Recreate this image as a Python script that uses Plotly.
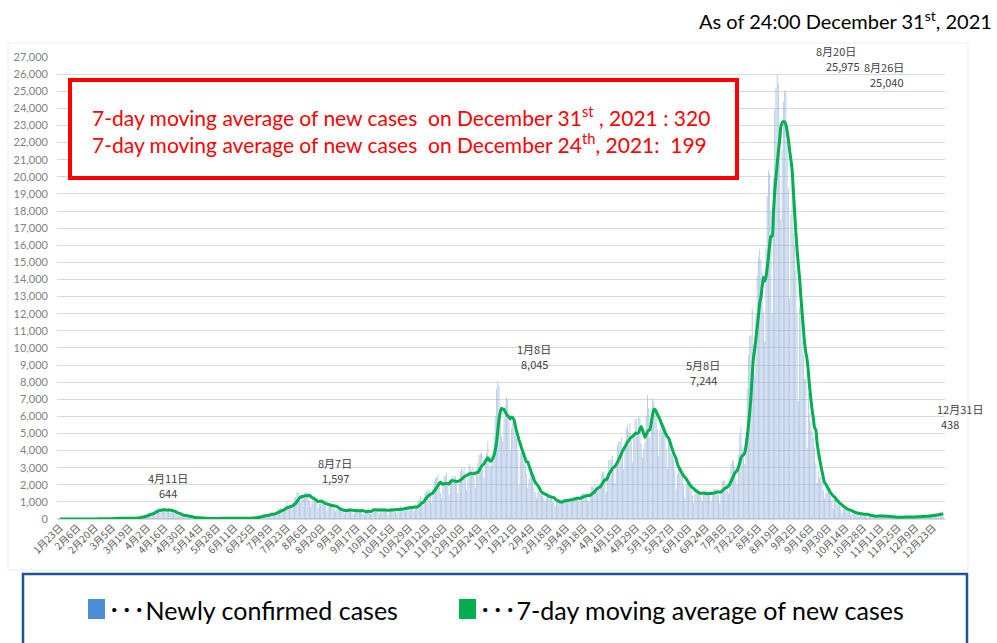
import pandas as pd
import plotly.graph_objects as go

# ---------------- data (daily newly confirmed cases) ----------------
jan_2020 = [1, 0, 1, 1, 0, 1, 4, 2, 3]
feb_2020 = [1, 2, 0, 0, 0, 0, 0, 1, 0, 0, 0, 1, 2, 1, 8, 5, 7, 6, 8, 5,
            9, 10, 12, 14, 8, 14, 18, 21, 12]
mar_2020 = [14, 15, 18, 35, 29, 52, 59, 33, 26, 59, 54, 52, 62, 41, 15, 32, 45, 42, 44, 39,
            53, 43, 38, 65, 93, 96, 112, 194, 173, 87, 220]
apr_2020 = [225, 275, 351, 367, 383, 252, 351, 515, 576, 608, 644, 507, 392, 457, 549, 580, 562, 584, 568, 373,
            372, 427, 448, 416, 350, 216, 179, 265, 210, 185]
may_2020 = [165, 244, 204, 118, 124, 86, 100, 85, 104, 48, 69, 60, 35, 98, 64, 47, 28, 27, 40, 30,
            39, 27, 15, 22, 21, 35, 37, 38, 64, 48, 38]
jun_2020 = [32, 36, 40, 41, 52, 37, 39, 15, 40, 40, 43, 55, 41, 47, 42, 44, 46, 31, 60, 54,
            56, 48, 37, 57, 61, 105, 92, 110, 58, 132]
jul_2020 = [128, 196, 250, 274, 209, 139, 207, 195, 355, 430, 385, 255, 226, 331, 464, 623, 590, 668, 509, 419,
            630, 795, 981, 768, 839, 595, 599, 981, 1261, 1301, 1580]
aug_2020 = [1536, 1331, 958, 1236, 1356, 1485, 1597, 1565, 1445, 1066, 699, 969, 1176, 1360, 1228, 1012, 622, 886, 1027, 1136,
            1033, 849, 734, 489, 702, 896, 966, 854, 836, 587, 433]
sep_2020 = [597, 519, 569, 582, 529, 478, 285, 509, 506, 653, 650, 583, 447, 270, 397, 477, 597, 641, 529, 464,
            434, 299, 228, 486, 555, 646, 550, 276, 518, 570]
oct_2020 = [630, 579, 594, 539, 287, 494, 545, 624, 613, 574, 423, 263, 535, 598, 693, 615, 640, 422, 316, 614,
            613, 741, 621, 736, 502, 488, 724, 690, 803, 766, 723]
nov_2020 = [613, 471, 845, 622, 1046, 1141, 1309, 1020, 764, 1290, 1545, 1664, 1704, 1738, 1435, 954, 1702, 2201, 2388, 2427,
            2595, 2168, 1520, 1228, 1941, 2504, 2508, 2684, 2067, 1434]
dec_2020 = [2029, 2432, 2506, 2442, 2509, 2027, 1510, 2067, 2810, 2971, 2789, 3041, 2391, 1680, 2384, 3211, 3037, 2834, 2991, 2484,
            1816, 2643, 3269, 3740, 3823, 3877, 2943, 2395, 3604, 3852, 4520]
jan_2021 = [3251, 3059, 3158, 3325, 4915, 6001, 7570, 8045, 7790, 6094, 4876, 4537, 5874, 6605, 7133, 7014, 5759, 3999, 5320, 5654,
            5586, 5045, 4717, 3990, 1987, 3853, 3961, 4129, 3538, 3337, 2672]
feb_2021 = [1792, 2324, 2631, 2576, 2369, 1781, 1598, 1217, 1569, 1880, 1608, 1543, 1342, 1211, 1056, 1309, 1529, 1378, 1311, 1239,
            1046, 961, 739, 1070, 1142, 1078, 988, 996]
mar_2021 = [1010, 1052, 1168, 1184, 1146, 1133, 1065, 1128, 1127, 1316, 1285, 1320, 1295, 1067, 987, 1464, 1500, 1498, 1471, 1513,
            1119, 1048, 1484, 1914, 1921, 1829, 2034, 1785, 1559, 1863, 2080]
apr_2021 = [2597, 2785, 2759, 2438, 1572, 2657, 3453, 3443, 3479, 3697, 2780, 2091, 3447, 4301, 4532, 4527, 4802, 4093, 2924, 4336,
            5285, 5518, 5120, 5606, 4606, 3315, 4835, 5795, 5891, 5011]
may_2021 = [5990, 5899, 4403, 3600, 4080, 4441, 6054, 7244, 6466, 4718, 6234, 7050, 6873, 6266, 6417, 5246, 3678, 5232, 5687, 5574,
            5265, 4951, 4066, 2916, 4549, 4402, 3829, 3684, 3515, 2879, 1787]
jun_2021 = [2640, 2978, 2960, 2694, 2578, 1963, 1237, 2063, 2218, 2062, 1947, 1923, 1388, 936, 1464, 1746, 1768, 1677, 1610, 1303,
            1019, 1411, 1669, 1726, 1597, 1632, 1367, 1021, 1539, 1772]
jul_2021 = [1755, 1798, 1754, 1424, 948, 1671, 2188, 2253, 2233, 2076, 1644, 1502, 2380, 3194, 3434, 3426, 3100, 2327, 1999, 3757,
            4943, 5397, 4225, 3574, 3200, 4692, 7629, 9576, 10693, 10743, 12341]
aug_2021 = [10168, 8392, 12016, 14207, 15263, 15753, 15166, 14472, 12065, 10379, 15812, 18889, 20365, 20151, 17999, 12000, 19950, 23917, 25156, 25975,
            25492, 22500, 17500, 21570, 24372, 25040, 24935, 22700, 19300, 12900, 17800]
sep_2021 = [20024, 16698, 16014, 14514, 12029, 6883, 12395, 12404, 10386, 9600, 8221, 8163, 4170, 7344, 6145, 5681, 5093, 4747, 4170, 3292,
            2100, 2800, 2400, 2500, 2200, 1700, 1200, 1500, 1800, 1600]
oct_2021 = [1444, 1350, 1100, 620, 1130, 1130, 860, 980, 770, 600, 380, 600, 690, 620, 510, 530, 420, 250, 370, 390,
            390, 350, 330, 270, 150, 290, 340, 280, 310, 280, 250]
nov_2021 = [86, 147, 163, 162, 230, 190, 170, 105, 165, 196, 206, 201, 175, 135, 80, 135, 176, 150, 147, 146,
            95, 50, 77, 97, 108, 133, 130, 113, 78, 97]
dec_2021 = [130, 125, 130, 130, 110, 70, 130, 140, 155, 160, 150, 140, 90, 170, 185, 170, 180, 190, 160, 130,
            250, 250, 230, 183, 320, 260, 205, 340, 400, 277, 438]

months = [jan_2020, feb_2020, mar_2020, apr_2020, may_2020, jun_2020, jul_2020, aug_2020, sep_2020, oct_2020,
          nov_2020, dec_2020, jan_2021, feb_2021, mar_2021, apr_2021, may_2021, jun_2021, jul_2021, aug_2021,
          sep_2021, oct_2021, nov_2021, dec_2021]
expected_len = [9, 29, 31, 30, 31, 30, 31, 31, 30, 31, 30, 31, 31, 28, 31, 30, 31, 30, 31, 31, 30, 31, 30, 31]
for i, (m, n) in enumerate(zip(months, expected_len)):
    assert len(m) == n, f"month {i} has {len(m)} values, expected {n}"

new_cases = [v for m in months for v in m]
dates = pd.date_range("2020-01-23", periods=len(new_cases), freq="D")
moving_avg = pd.Series(new_cases, index=dates).rolling(7, min_periods=1).mean()

tick_dates = pd.date_range("2020-01-23", "2021-12-23", freq="14D")
tick_labels = [f"{d.month}月{d.day}日" for d in tick_dates]

peak_labels = [  # (date label, value label, px x of date, px x of value, px y of first line)
    ("4月11日", "644", 168, 168, 478),
    ("8月7日", "1,597", 335, 335, 463),
    ("1月8日", "8,045", 534, 534, 349),
    ("5月8日", "7,244", 703, 703, 365),
    ("8月20日", "25,975", 836, 843, 51),
    ("8月26日", "25,040", 884, 887, 67),
    ("12月31日", "438", 960, 950, 409),
]

# ---------------- geometry helpers (pixel -> paper) ----------------
W, H = 997, 643
L, R, T, B = 57, 52, 57, 124
PW, PH = W - L - R, H - T - B


def px(x):
    return (x - L) / PW


def py(y):
    return (H - B - y) / PH


FONT = "Lato, 'Noto Sans CJK JP', sans-serif"
JFONT = "'Noto Sans CJK JP', sans-serif"

fig = go.Figure()
fig.add_trace(go.Bar(
    x=dates, y=new_cases, name="Newly confirmed cases",
    marker=dict(color="rgba(150,177,219,0.72)", line=dict(width=0)),
))
fig.add_trace(go.Scatter(
    x=dates, y=moving_avg, mode="lines", name="7-day moving average of new cases",
    line=dict(color="#00B050", width=3, shape="spline", smoothing=0.6),
))

shapes = []
# faint chart-area frame
shapes.append(dict(type="rect", xref="paper", yref="paper", x0=px(8), x1=px(968), y0=py(570), y1=py(43),
                   line=dict(color="#EDEDED", width=1), layer="below"))
# red info box
shapes.append(dict(type="rect", xref="paper", yref="paper", x0=px(70), x1=px(737), y0=py(178), y1=py(80),
                   line=dict(color="#FF0000", width=4), fillcolor="white"))
# legend box
shapes.append(dict(type="rect", xref="paper", yref="paper", x0=px(23), x1=px(967), y0=py(650), y1=py(574),
                   line=dict(color="#1F5496", width=2.5)))
# legend swatches
shapes.append(dict(type="rect", xref="paper", yref="paper", x0=px(88), x1=px(105), y0=py(619), y1=py(599),
                   line=dict(width=0), fillcolor="#4A8ED8"))
shapes.append(dict(type="rect", xref="paper", yref="paper", x0=px(459), x1=px(476), y0=py(619), y1=py(599),
                   line=dict(width=0), fillcolor="#00B050"))

annotations = []


def text(x, y, s, size, color="#000000", xanchor="left", font=FONT):
    annotations.append(dict(xref="paper", yref="paper", x=px(x), y=py(y), text=s, showarrow=False,
                            xanchor=xanchor, yanchor="middle", font=dict(family=font, size=size, color=color)))


text(994, 20, "As of 24:00 December 31<sup>st</sup>, 2021", 20, xanchor="right")
text(90, 116, "7-day moving average of new cases  on December 31<sup>st</sup> , 2021 : 320", 21, "#FF0000")
text(90, 143, "7-day moving average of new cases  on December 24<sup>th</sup>, 2021:  199", 21, "#FF0000")
text(106, 610, "･･･Newly confirmed cases", 25)
text(477, 610, "･･･7-day moving average of new cases", 25)
for dl, vl, x1, x2, y in peak_labels:
    text(x1, y, dl, 11, "#404040", xanchor="center", font=JFONT)
    text(x2, y + 15, vl, 11, "#404040", xanchor="center", font=JFONT)

fig.update_layout(
    width=W, height=H,
    margin=dict(l=L, r=R, t=T, b=B, autoexpand=False),
    paper_bgcolor="white", plot_bgcolor="white",
    showlegend=False, bargap=0.3,
    shapes=shapes, annotations=annotations,
    font=dict(family=JFONT, color="#595959"),
)
fig.update_xaxes(
    type="date", range=["2020-01-20 14:00", "2022-01-01 14:00"],
    tickmode="array", tickvals=tick_dates, ticktext=tick_labels, tickangle=-45,
    tickfont=dict(size=10, color="#595959", family=JFONT),
    showgrid=False, showline=False, zeroline=False, ticks="",
)
fig.update_yaxes(
    range=[0, 27000], dtick=1000, tickformat=",",
    tickfont=dict(size=11, color="#7F7F7F", family="Lato, sans-serif"),
    showgrid=True, gridcolor="#D9D9D9", gridwidth=1, zeroline=True, zerolinecolor="#D9D9D9",
    showline=False, ticks="", ticklabelstandoff=8,
)

fig.write_html(
    "out.html",
    config={"displayModeBar": False},
    post_script="document.body.style.margin='0px';document.body.style.overflow='hidden';",
)
